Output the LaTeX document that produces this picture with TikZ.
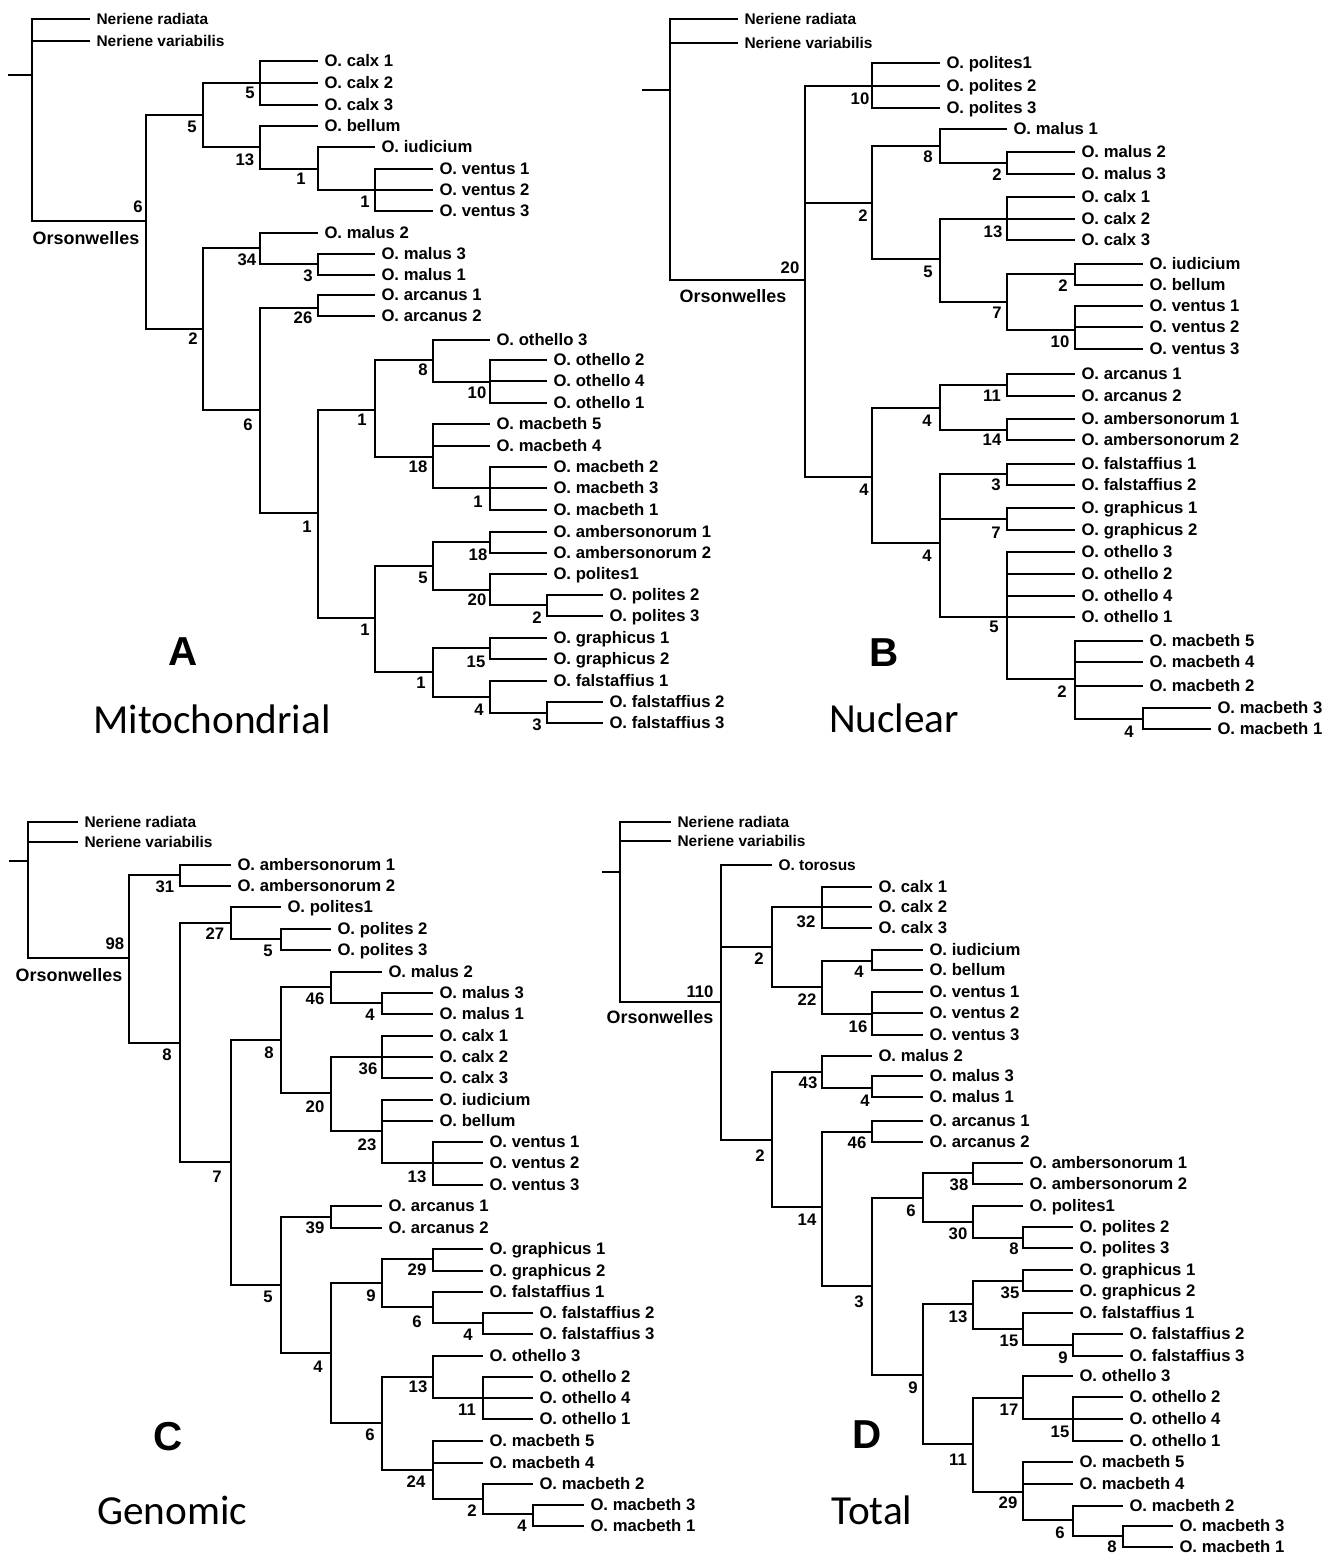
\documentclass[tikz,border=0pt]{standalone}
\usepackage{fontspec}
\setmainfont{Liberation Sans}
\newfontfamily\setfont{Carlito}

\begin{document}
\begin{tikzpicture}[
    x=0.02cm, y=-0.02cm,
    branch/.style={line width=0.8pt},
    leaf/.style={anchor=west, inner xsep=3.5pt, inner ysep=0pt, text height=6.8pt, text depth=0pt, font=\bfseries\fontsize{9.5}{11}\selectfont},
    outgroup/.style={leaf, font=\bfseries\fontsize{8.8}{10}\selectfont},
    boot/.style={inner sep=0pt, font=\bfseries\fontsize{9.5}{11}\selectfont},
    genus/.style={inner sep=0pt, font=\bfseries\fontsize{10.2}{12}\selectfont},
    panel/.style={inner sep=0pt, font=\bfseries\fontsize{23}{26}\selectfont},
    dataset/.style={inner sep=0pt, font=\setfont\fontsize{23.5}{26}\selectfont}
]
\path[fill=white] (0,0) rectangle (1333,1556);
\useasboundingbox (0,0) rectangle (1333,1556);

% ---------------- A: Mitochondrial ----------------
\coordinate (a-stub) at (8,75);
\coordinate (a-root) at (32,75);
\node[outgroup] (a-nrad) at (90,19) {Neriene radiata};
\node[outgroup] (a-nvar) at (90,41) {Neriene variabilis};
\coordinate (a-ors) at (146,221);
\node[genus] (a-orsl) at (86,238) {Orsonwelles};
\node[boot] (a-orsb) at (138,207) {6};

\coordinate (a1) at (203,115);  \node[boot] (a1b) at (192,127) {5};
\coordinate (a2) at (260,83);   \node[boot] (a2b) at (250,93) {5};
\coordinate (a3) at (260,147);  \node[boot] (a3b) at (245,160) {13};
\coordinate (a4) at (318,169);  \node[boot] (a4b) at (301,179) {1};
\coordinate (a5) at (375,190);  \node[boot] (a5b) at (365,202) {1};
\coordinate (a6) at (203,329);  \node[boot] (a6b) at (193,339) {2};
\coordinate (a7) at (260,248);  \node[boot] (a7b) at (247,260) {34};
\coordinate (a8) at (318,264);  \node[boot] (a8b) at (308,276) {3};
\coordinate (a9) at (260,410);  \node[boot] (a9b) at (248,425) {6};
\coordinate (a10) at (318,308); \node[boot] (a10b) at (303,318) {26};
\coordinate (a11) at (318,513); \node[boot] (a11b) at (307,527) {1};
\coordinate (a12) at (375,410); \node[boot] (a12b) at (362,420) {1};
\coordinate (a13) at (433,360); \node[boot] (a13b) at (423,370) {8};
\coordinate (a14) at (490,382); \node[boot] (a14b) at (477,393) {10};
\coordinate (a15) at (433,457); \node[boot] (a15b) at (418,467) {18};
\coordinate (a16) at (490,488); \node[boot] (a16b) at (478,502) {1};
\coordinate (a17) at (375,618); \node[boot] (a17b) at (365,630) {1};
\coordinate (a18) at (433,566); \node[boot] (a18b) at (423,578) {5};
\coordinate (a19) at (490,542); \node[boot] (a19b) at (478,555) {18};
\coordinate (a20) at (490,590); \node[boot] (a20b) at (477,600) {20};
\coordinate (a21) at (547,605); \node[boot] (a21b) at (537,618) {2};
\coordinate (a22) at (433,672); \node[boot] (a22b) at (421,683) {1};
\coordinate (a23) at (490,648); \node[boot] (a23b) at (476,662) {15};
\coordinate (a24) at (490,697); \node[boot] (a24b) at (479,710) {4};
\coordinate (a25) at (547,713); \node[boot] (a25b) at (537,725) {3};

\node[leaf] (a-calx1) at (318,61) {O. calx 1};
\node[leaf] (a-calx2) at (318,83) {O. calx 2};
\node[leaf] (a-calx3) at (318,105) {O. calx 3};
\node[leaf] (a-bel) at (318,126) {O. bellum};
\node[leaf] (a-iud) at (375,147) {O. iudicium};
\node[leaf] (a-ven1) at (433,169) {O. ventus 1};
\node[leaf] (a-ven2) at (433,190) {O. ventus 2};
\node[leaf] (a-ven3) at (433,211) {O. ventus 3};
\node[leaf] (a-mal2) at (318,233) {O. malus 2};
\node[leaf] (a-mal3) at (375,254) {O. malus 3};
\node[leaf] (a-mal1) at (375,275) {O. malus 1};
\node[leaf] (a-arc1) at (375,295) {O. arcanus 1};
\node[leaf] (a-arc2) at (375,316) {O. arcanus 2};
\node[leaf] (a-oth3) at (490,340) {O. othello 3};
\node[leaf] (a-oth2) at (547,360) {O. othello 2};
\node[leaf] (a-oth4) at (547,381) {O. othello 4};
\node[leaf] (a-oth1) at (547,403) {O. othello 1};
\node[leaf] (a-mac5) at (490,424) {O. macbeth 5};
\node[leaf] (a-mac4) at (490,446) {O. macbeth 4};
\node[leaf] (a-mac2) at (547,467) {O. macbeth 2};
\node[leaf] (a-mac3) at (547,488) {O. macbeth 3};
\node[leaf] (a-mac1) at (547,510) {O. macbeth 1};
\node[leaf] (a-amb1) at (547,532) {O. ambersonorum 1};
\node[leaf] (a-amb2) at (547,553) {O. ambersonorum 2};
\node[leaf] (a-pol1) at (547,574) {O. polites1};
\node[leaf] (a-pol2) at (603,595) {O. polites 2};
\node[leaf] (a-pol3) at (603,616) {O. polites 3};
\node[leaf] (a-gra1) at (547,638) {O. graphicus 1};
\node[leaf] (a-gra2) at (547,659) {O. graphicus 2};
\node[leaf] (a-fal1) at (547,681) {O. falstaffius 1};
\node[leaf] (a-fal2) at (603,702) {O. falstaffius 2};
\node[leaf] (a-fal3) at (603,723) {O. falstaffius 3};

\draw[branch] (a-stub) -- (a-root);
\draw[branch] (a-root) |- (a-nrad.west) (a-root) |- (a-nvar.west) (a-root) |- (a-ors);
\draw[branch] (a-ors) |- (a1) (a-ors) |- (a6);
\draw[branch] (a1) |- (a2) (a1) |- (a3);
\draw[branch] (a2) |- (a-calx1.west) (a2) |- (a-calx2.west) (a2) |- (a-calx3.west);
\draw[branch] (a3) |- (a-bel.west) (a3) |- (a4);
\draw[branch] (a4) |- (a-iud.west) (a4) |- (a5);
\draw[branch] (a5) |- (a-ven1.west) (a5) |- (a-ven2.west) (a5) |- (a-ven3.west);
\draw[branch] (a6) |- (a7) (a6) |- (a9);
\draw[branch] (a7) |- (a-mal2.west) (a7) |- (a8);
\draw[branch] (a8) |- (a-mal3.west) (a8) |- (a-mal1.west);
\draw[branch] (a9) |- (a10) (a9) |- (a11);
\draw[branch] (a10) |- (a-arc1.west) (a10) |- (a-arc2.west);
\draw[branch] (a11) |- (a12) (a11) |- (a17);
\draw[branch] (a12) |- (a13) (a12) |- (a15);
\draw[branch] (a13) |- (a-oth3.west) (a13) |- (a14);
\draw[branch] (a14) |- (a-oth2.west) (a14) |- (a-oth4.west) (a14) |- (a-oth1.west);
\draw[branch] (a15) |- (a-mac5.west) (a15) |- (a-mac4.west) (a15) |- (a16);
\draw[branch] (a16) |- (a-mac2.west) (a16) |- (a-mac3.west) (a16) |- (a-mac1.west);
\draw[branch] (a17) |- (a18) (a17) |- (a22);
\draw[branch] (a18) |- (a19) (a18) |- (a20);
\draw[branch] (a19) |- (a-amb1.west) (a19) |- (a-amb2.west);
\draw[branch] (a20) |- (a-pol1.west) (a20) |- (a21);
\draw[branch] (a21) |- (a-pol2.west) (a21) |- (a-pol3.west);
\draw[branch] (a22) |- (a23) (a22) |- (a24);
\draw[branch] (a23) |- (a-gra1.west) (a23) |- (a-gra2.west);
\draw[branch] (a24) |- (a-fal1.west) (a24) |- (a25);
\draw[branch] (a25) |- (a-fal2.west) (a25) |- (a-fal3.west);

\node[panel] (a-tag) at (183,652) {A};
\node[dataset] (a-set) at (212,719) {Mitochondrial};

% ---------------- B: Nuclear ----------------
\coordinate (b-stub) at (642,90);
\coordinate (b-root) at (670,90);
\node[outgroup] (b-nrad) at (738,19) {Neriene radiata};
\node[outgroup] (b-nvar) at (738,43) {Neriene variabilis};
\coordinate (b-ors) at (805,280);
\node[genus] (b-orsl) at (733,296) {Orsonwelles};
\node[boot] (b-orsb) at (790,268) {20};

\coordinate (b1) at (872,86);    \node[boot] (b1b) at (860,99) {10};
\coordinate (b2) at (872,203);   \node[boot] (b2b) at (863,216) {2};
\coordinate (b3) at (940,146);   \node[boot] (b3b) at (928,157) {8};
\coordinate (b4) at (1007,163);  \node[boot] (b4b) at (997,175) {2};
\coordinate (b5) at (940,259);   \node[boot] (b5b) at (928,272) {5};
\coordinate (b6) at (1007,219);  \node[boot] (b6b) at (993,232) {13};
\coordinate (b7) at (1007,302);  \node[boot] (b7b) at (997,313) {7};
\coordinate (b8) at (1075,274);  \node[boot] (b8b) at (1063,286) {2};
\coordinate (b9) at (1075,330);  \node[boot] (b9b) at (1060,342) {10};
\coordinate (b10) at (872,477);  \node[boot] (b10b) at (864,490) {4};
\coordinate (b11) at (940,408);  \node[boot] (b11b) at (927,421) {4};
\coordinate (b12) at (1007,385); \node[boot] (b12b) at (992,396) {11};
\coordinate (b13) at (1007,430); \node[boot] (b13b) at (992,440) {14};
\coordinate (b14) at (940,543);  \node[boot] (b14b) at (927,556) {4};
\coordinate (b15) at (1007,474); \node[boot] (b15b) at (996,485) {3};
\coordinate (b16) at (1007,519); \node[boot] (b16b) at (996,533) {7};
\coordinate (b17) at (1007,617); \node[boot] (b17b) at (994,627) {5};
\coordinate (b18) at (1075,679); \node[boot] (b18b) at (1062,692) {2};
\coordinate (b19) at (1143,719); \node[boot] (b19b) at (1129,732) {4};

\node[leaf] (b-pol1) at (940,63) {O. polites1};
\node[leaf] (b-pol2) at (940,86) {O. polites 2};
\node[leaf] (b-pol3) at (940,108) {O. polites 3};
\node[leaf] (b-mal1) at (1007,129) {O. malus 1};
\node[leaf] (b-mal2) at (1075,152) {O. malus 2};
\node[leaf] (b-mal3) at (1075,174) {O. malus 3};
\node[leaf] (b-calx1) at (1075,197) {O. calx 1};
\node[leaf] (b-calx2) at (1075,219) {O. calx 2};
\node[leaf] (b-calx3) at (1075,240) {O. calx 3};
\node[leaf] (b-iud) at (1143,264) {O. iudicium};
\node[leaf] (b-bel) at (1143,285) {O. bellum};
\node[leaf] (b-ven1) at (1143,306) {O. ventus 1};
\node[leaf] (b-ven2) at (1143,327) {O. ventus 2};
\node[leaf] (b-ven3) at (1143,349) {O. ventus 3};
\node[leaf] (b-arc1) at (1075,374) {O. arcanus 1};
\node[leaf] (b-arc2) at (1075,396) {O. arcanus 2};
\node[leaf] (b-amb1) at (1075,419) {O. ambersonorum 1};
\node[leaf] (b-amb2) at (1075,440) {O. ambersonorum 2};
\node[leaf] (b-fal1) at (1075,464) {O. falstaffius 1};
\node[leaf] (b-fal2) at (1075,485) {O. falstaffius 2};
\node[leaf] (b-gra1) at (1075,508) {O. graphicus 1};
\node[leaf] (b-gra2) at (1075,530) {O. graphicus 2};
\node[leaf] (b-oth3) at (1075,552) {O. othello 3};
\node[leaf] (b-oth2) at (1075,574) {O. othello 2};
\node[leaf] (b-oth4) at (1075,596) {O. othello 4};
\node[leaf] (b-oth1) at (1075,617) {O. othello 1};
\node[leaf] (b-mac5) at (1143,641) {O. macbeth 5};
\node[leaf] (b-mac4) at (1143,662) {O. macbeth 4};
\node[leaf] (b-mac2) at (1143,686) {O. macbeth 2};
\node[leaf] (b-mac3) at (1211,708) {O. macbeth 3};
\node[leaf] (b-mac1) at (1211,729) {O. macbeth 1};

\draw[branch] (b-stub) -- (b-root);
\draw[branch] (b-root) |- (b-nrad.west) (b-root) |- (b-nvar.west) (b-root) |- (b-ors);
\draw[branch] (b-ors) |- (b1) (b-ors) |- (b2) (b-ors) |- (b10);
\draw[branch] (b1) |- (b-pol1.west) (b1) |- (b-pol2.west) (b1) |- (b-pol3.west);
\draw[branch] (b2) |- (b3) (b2) |- (b5);
\draw[branch] (b3) |- (b-mal1.west) (b3) |- (b4);
\draw[branch] (b4) |- (b-mal2.west) (b4) |- (b-mal3.west);
\draw[branch] (b5) |- (b6) (b5) |- (b7);
\draw[branch] (b6) |- (b-calx1.west) (b6) |- (b-calx2.west) (b6) |- (b-calx3.west);
\draw[branch] (b7) |- (b8) (b7) |- (b9);
\draw[branch] (b8) |- (b-iud.west) (b8) |- (b-bel.west);
\draw[branch] (b9) |- (b-ven1.west) (b9) |- (b-ven2.west) (b9) |- (b-ven3.west);
\draw[branch] (b10) |- (b11) (b10) |- (b14);
\draw[branch] (b11) |- (b12) (b11) |- (b13);
\draw[branch] (b12) |- (b-arc1.west) (b12) |- (b-arc2.west);
\draw[branch] (b13) |- (b-amb1.west) (b13) |- (b-amb2.west);
\draw[branch] (b14) |- (b15) (b14) |- (b16) (b14) |- (b17);
\draw[branch] (b15) |- (b-fal1.west) (b15) |- (b-fal2.west);
\draw[branch] (b16) |- (b-gra1.west) (b16) |- (b-gra2.west);
\draw[branch] (b17) |- (b-oth3.west) (b17) |- (b-oth2.west) (b17) |- (b-oth4.west) (b17) |- (b-oth1.west) (b17) |- (b18);
\draw[branch] (b18) |- (b-mac5.west) (b18) |- (b-mac4.west) (b18) |- (b-mac2.west) (b18) |- (b19);
\draw[branch] (b19) |- (b-mac3.west) (b19) |- (b-mac1.west);

\node[panel] (b-tag) at (884,653) {B};
\node[dataset] (b-set) at (894,718) {Nuclear};

% ---------------- C: Genomic ----------------
\coordinate (c-stub) at (9,861);
\coordinate (c-root) at (28,861);
\node[outgroup] (c-nrad) at (78,822) {Neriene radiata};
\node[outgroup] (c-nvar) at (78,842) {Neriene variabilis};
\coordinate (c-ors) at (129,958);
\node[genus] (c-orsl) at (69,975) {Orsonwelles};
\node[boot] (c-orsb) at (115,944) {98};

\coordinate (c1) at (180,875);   \node[boot] (c1b) at (165,887) {31};
\coordinate (c2) at (180,1043);  \node[boot] (c2b) at (167,1055) {8};
\coordinate (c3) at (231,923);   \node[boot] (c3b) at (215,934) {27};
\coordinate (c4) at (281,939);   \node[boot] (c4b) at (268,951) {5};
\coordinate (c5) at (231,1162);  \node[boot] (c5b) at (217,1177) {7};
\coordinate (c6) at (281,1040);  \node[boot] (c6b) at (269,1053) {8};
\coordinate (c7) at (331,987);   \node[boot] (c7b) at (315,999) {46};
\coordinate (c8) at (382,1003);  \node[boot] (c8b) at (370,1015) {4};
\coordinate (c9) at (331,1093);  \node[boot] (c9b) at (315,1107) {20};
\coordinate (c10) at (382,1057); \node[boot] (c10b) at (368,1069) {36};
\coordinate (c11) at (382,1131); \node[boot] (c11b) at (367,1145) {23};
\coordinate (c12) at (433,1163); \node[boot] (c12b) at (417,1177) {13};
\coordinate (c13) at (281,1285); \node[boot] (c13b) at (268,1297) {5};
\coordinate (c14) at (331,1217); \node[boot] (c14b) at (315,1228) {39};
\coordinate (c15) at (331,1353); \node[boot] (c15b) at (318,1367) {4};
\coordinate (c16) at (382,1283); \node[boot] (c16b) at (371,1296) {9};
\coordinate (c17) at (433,1259); \node[boot] (c17b) at (417,1270) {29};
\coordinate (c18) at (433,1307); \node[boot] (c18b) at (417,1322) {6};
\coordinate (c19) at (483,1323); \node[boot] (c19b) at (468,1335) {4};
\coordinate (c20) at (382,1423); \node[boot] (c20b) at (370,1435) {6};
\coordinate (c21) at (433,1377); \node[boot] (c21b) at (418,1387) {13};
\coordinate (c22) at (483,1398); \node[boot] (c22b) at (467,1410) {11};
\coordinate (c23) at (433,1470); \node[boot] (c23b) at (416,1482) {24};
\coordinate (c24) at (483,1499); \node[boot] (c24b) at (472,1511) {2};
\coordinate (c25) at (533,1514); \node[boot] (c25b) at (522,1526) {4};

\node[leaf] (c-amb1) at (231,865) {O. ambersonorum 1};
\node[leaf] (c-amb2) at (231,886) {O. ambersonorum 2};
\node[leaf] (c-pol1) at (281,907) {O. polites1};
\node[leaf] (c-pol2) at (331,929) {O. polites 2};
\node[leaf] (c-pol3) at (331,950) {O. polites 3};
\node[leaf] (c-mal2) at (382,972) {O. malus 2};
\node[leaf] (c-mal3) at (433,993) {O. malus 3};
\node[leaf] (c-mal1) at (433,1014) {O. malus 1};
\node[leaf] (c-calx1) at (433,1036) {O. calx 1};
\node[leaf] (c-calx2) at (433,1057) {O. calx 2};
\node[leaf] (c-calx3) at (433,1078) {O. calx 3};
\node[leaf] (c-iud) at (433,1100) {O. iudicium};
\node[leaf] (c-bel) at (433,1121) {O. bellum};
\node[leaf] (c-ven1) at (483,1142) {O. ventus 1};
\node[leaf] (c-ven2) at (483,1163) {O. ventus 2};
\node[leaf] (c-ven3) at (483,1185) {O. ventus 3};
\node[leaf] (c-arc1) at (382,1206) {O. arcanus 1};
\node[leaf] (c-arc2) at (382,1228) {O. arcanus 2};
\node[leaf] (c-gra1) at (483,1249) {O. graphicus 1};
\node[leaf] (c-gra2) at (483,1271) {O. graphicus 2};
\node[leaf] (c-fal1) at (483,1292) {O. falstaffius 1};
\node[leaf] (c-fal2) at (533,1313) {O. falstaffius 2};
\node[leaf] (c-fal3) at (533,1334) {O. falstaffius 3};
\node[leaf] (c-oth3) at (483,1356) {O. othello 3};
\node[leaf] (c-oth2) at (533,1377) {O. othello 2};
\node[leaf] (c-oth4) at (533,1398) {O. othello 4};
\node[leaf] (c-oth1) at (533,1419) {O. othello 1};
\node[leaf] (c-mac5) at (483,1441) {O. macbeth 5};
\node[leaf] (c-mac4) at (483,1463) {O. macbeth 4};
\node[leaf] (c-mac2) at (533,1484) {O. macbeth 2};
\node[leaf] (c-mac3) at (584,1505) {O. macbeth 3};
\node[leaf] (c-mac1) at (584,1526) {O. macbeth 1};

\draw[branch] (c-stub) -- (c-root);
\draw[branch] (c-root) |- (c-nrad.west) (c-root) |- (c-nvar.west) (c-root) |- (c-ors);
\draw[branch] (c-ors) |- (c1) (c-ors) |- (c2);
\draw[branch] (c1) |- (c-amb1.west) (c1) |- (c-amb2.west);
\draw[branch] (c2) |- (c3) (c2) |- (c5);
\draw[branch] (c3) |- (c-pol1.west) (c3) |- (c4);
\draw[branch] (c4) |- (c-pol2.west) (c4) |- (c-pol3.west);
\draw[branch] (c5) |- (c6) (c5) |- (c13);
\draw[branch] (c6) |- (c7) (c6) |- (c9);
\draw[branch] (c7) |- (c-mal2.west) (c7) |- (c8);
\draw[branch] (c8) |- (c-mal3.west) (c8) |- (c-mal1.west);
\draw[branch] (c9) |- (c10) (c9) |- (c11);
\draw[branch] (c10) |- (c-calx1.west) (c10) |- (c-calx2.west) (c10) |- (c-calx3.west);
\draw[branch] (c11) |- (c-iud.west) (c11) |- (c-bel.west) (c11) |- (c12);
\draw[branch] (c12) |- (c-ven1.west) (c12) |- (c-ven2.west) (c12) |- (c-ven3.west);
\draw[branch] (c13) |- (c14) (c13) |- (c15);
\draw[branch] (c14) |- (c-arc1.west) (c14) |- (c-arc2.west);
\draw[branch] (c15) |- (c16) (c15) |- (c20);
\draw[branch] (c16) |- (c17) (c16) |- (c18);
\draw[branch] (c17) |- (c-gra1.west) (c17) |- (c-gra2.west);
\draw[branch] (c18) |- (c-fal1.west) (c18) |- (c19);
\draw[branch] (c19) |- (c-fal2.west) (c19) |- (c-fal3.west);
\draw[branch] (c20) |- (c21) (c20) |- (c23);
\draw[branch] (c21) |- (c-oth3.west) (c21) |- (c22);
\draw[branch] (c22) |- (c-oth2.west) (c22) |- (c-oth4.west) (c22) |- (c-oth1.west);
\draw[branch] (c23) |- (c-mac5.west) (c23) |- (c-mac4.west) (c23) |- (c24);
\draw[branch] (c24) |- (c-mac2.west) (c24) |- (c25);
\draw[branch] (c25) |- (c-mac3.west) (c25) |- (c-mac1.west);

\node[panel] (c-tag) at (168,1437) {C};
\node[dataset] (c-set) at (172,1510) {Genomic};

% ---------------- D: Total ----------------
\coordinate (d-stub) at (602,872);
\coordinate (d-root) at (620,872);
\node[outgroup] (d-nrad) at (671,822) {Neriene radiata};
\node[outgroup] (d-nvar) at (671,841) {Neriene variabilis};
\coordinate (d-ors) at (721,1002);
\node[genus] (d-orsl) at (660,1017) {Orsonwelles};
\node[boot] (d-orsb) at (700,992) {110};

\coordinate (d1) at (772,947);   \node[boot] (d1b) at (759,959) {2};
\coordinate (d2) at (822,907);   \node[boot] (d2b) at (806,922) {32};
\coordinate (d3) at (822,987);   \node[boot] (d3b) at (807,1000) {22};
\coordinate (d4) at (872,961);   \node[boot] (d4b) at (859,972) {4};
\coordinate (d5) at (872,1014);  \node[boot] (d5b) at (858,1027) {16};
\coordinate (d6) at (772,1140);  \node[boot] (d6b) at (760,1156) {2};
\coordinate (d7) at (822,1072);  \node[boot] (d7b) at (808,1083) {43};
\coordinate (d8) at (872,1088);  \node[boot] (d8b) at (865,1101) {4};
\coordinate (d9) at (822,1207);  \node[boot] (d9b) at (807,1220) {14};
\coordinate (d10) at (872,1132); \node[boot] (d10b) at (857,1143) {46};
\coordinate (d11) at (872,1286); \node[boot] (d11b) at (859,1302) {3};
\coordinate (d12) at (923,1198); \node[boot] (d12b) at (911,1211) {6};
\coordinate (d13) at (973,1173); \node[boot] (d13b) at (959,1185) {38};
\coordinate (d14) at (973,1222); \node[boot] (d14b) at (958,1234) {30};
\coordinate (d15) at (1023,1238); \node[boot] (d15b) at (1014,1249) {8};
\coordinate (d16) at (923,1375); \node[boot] (d16b) at (913,1388) {9};
\coordinate (d17) at (973,1304); \node[boot] (d17b) at (958,1317) {13};
\coordinate (d18) at (1023,1281); \node[boot] (d18b) at (1010,1293) {35};
\coordinate (d19) at (1023,1329); \node[boot] (d19b) at (1009,1341) {15};
\coordinate (d20) at (1073,1345); \node[boot] (d20b) at (1063,1358) {9};
\coordinate (d21) at (973,1444); \node[boot] (d21b) at (958,1460) {11};
\coordinate (d22) at (1023,1398); \node[boot] (d22b) at (1009,1410) {17};
\coordinate (d23) at (1073,1419); \node[boot] (d23b) at (1060,1432) {15};
\coordinate (d24) at (1023,1492); \node[boot] (d24b) at (1008,1503) {29};
\coordinate (d25) at (1073,1520); \node[boot] (d25b) at (1060,1533) {6};
\coordinate (d26) at (1123,1536); \node[boot] (d26b) at (1112,1547) {8};

\node[outgroup] (d-tor) at (772,865) {O. torosus};
\node[leaf] (d-calx1) at (872,887) {O. calx 1};
\node[leaf] (d-calx2) at (872,907) {O. calx 2};
\node[leaf] (d-calx3) at (872,928) {O. calx 3};
\node[leaf] (d-iud) at (923,950) {O. iudicium};
\node[leaf] (d-bel) at (923,970) {O. bellum};
\node[leaf] (d-ven1) at (923,992) {O. ventus 1};
\node[leaf] (d-ven2) at (923,1013) {O. ventus 2};
\node[leaf] (d-ven3) at (923,1035) {O. ventus 3};
\node[leaf] (d-mal2) at (872,1056) {O. malus 2};
\node[leaf] (d-mal3) at (923,1076) {O. malus 3};
\node[leaf] (d-mal1) at (923,1097) {O. malus 1};
\node[leaf] (d-arc1) at (923,1121) {O. arcanus 1};
\node[leaf] (d-arc2) at (923,1142) {O. arcanus 2};
\node[leaf] (d-amb1) at (1023,1163) {O. ambersonorum 1};
\node[leaf] (d-amb2) at (1023,1184) {O. ambersonorum 2};
\node[leaf] (d-pol1) at (1023,1206) {O. polites1};
\node[leaf] (d-pol2) at (1073,1227) {O. polites 2};
\node[leaf] (d-pol3) at (1073,1248) {O. polites 3};
\node[leaf] (d-gra1) at (1073,1270) {O. graphicus 1};
\node[leaf] (d-gra2) at (1073,1291) {O. graphicus 2};
\node[leaf] (d-fal1) at (1073,1313) {O. falstaffius 1};
\node[leaf] (d-fal2) at (1123,1334) {O. falstaffius 2};
\node[leaf] (d-fal3) at (1123,1356) {O. falstaffius 3};
\node[leaf] (d-oth3) at (1073,1376) {O. othello 3};
\node[leaf] (d-oth2) at (1123,1397) {O. othello 2};
\node[leaf] (d-oth4) at (1123,1419) {O. othello 4};
\node[leaf] (d-oth1) at (1123,1441) {O. othello 1};
\node[leaf] (d-mac5) at (1073,1462) {O. macbeth 5};
\node[leaf] (d-mac4) at (1073,1484) {O. macbeth 4};
\node[leaf] (d-mac2) at (1123,1506) {O. macbeth 2};
\node[leaf] (d-mac3) at (1173,1526) {O. macbeth 3};
\node[leaf] (d-mac1) at (1173,1547) {O. macbeth 1};

\draw[branch] (d-stub) -- (d-root);
\draw[branch] (d-root) |- (d-nrad.west) (d-root) |- (d-nvar.west) (d-root) |- (d-ors);
\draw[branch] (d-ors) |- (d-tor.west) (d-ors) |- (d1) (d-ors) |- (d6);
\draw[branch] (d1) |- (d2) (d1) |- (d3);
\draw[branch] (d2) |- (d-calx1.west) (d2) |- (d-calx2.west) (d2) |- (d-calx3.west);
\draw[branch] (d3) |- (d4) (d3) |- (d5);
\draw[branch] (d4) |- (d-iud.west) (d4) |- (d-bel.west);
\draw[branch] (d5) |- (d-ven1.west) (d5) |- (d-ven2.west) (d5) |- (d-ven3.west);
\draw[branch] (d6) |- (d7) (d6) |- (d9);
\draw[branch] (d7) |- (d-mal2.west) (d7) |- (d8);
\draw[branch] (d8) |- (d-mal3.west) (d8) |- (d-mal1.west);
\draw[branch] (d9) |- (d10) (d9) |- (d11);
\draw[branch] (d10) |- (d-arc1.west) (d10) |- (d-arc2.west);
\draw[branch] (d11) |- (d12) (d11) |- (d16);
\draw[branch] (d12) |- (d13) (d12) |- (d14);
\draw[branch] (d13) |- (d-amb1.west) (d13) |- (d-amb2.west);
\draw[branch] (d14) |- (d-pol1.west) (d14) |- (d15);
\draw[branch] (d15) |- (d-pol2.west) (d15) |- (d-pol3.west);
\draw[branch] (d16) |- (d17) (d16) |- (d21);
\draw[branch] (d17) |- (d18) (d17) |- (d19);
\draw[branch] (d18) |- (d-gra1.west) (d18) |- (d-gra2.west);
\draw[branch] (d19) |- (d-fal1.west) (d19) |- (d20);
\draw[branch] (d20) |- (d-fal2.west) (d20) |- (d-fal3.west);
\draw[branch] (d21) |- (d22) (d21) |- (d24);
\draw[branch] (d22) |- (d-oth3.west) (d22) |- (d23);
\draw[branch] (d23) |- (d-oth2.west) (d23) |- (d-oth4.west) (d23) |- (d-oth1.west);
\draw[branch] (d24) |- (d-mac5.west) (d24) |- (d-mac4.west) (d24) |- (d25);
\draw[branch] (d25) |- (d-mac2.west) (d25) |- (d26);
\draw[branch] (d26) |- (d-mac3.west) (d26) |- (d-mac1.west);

\node[panel] (d-tag) at (867,1435) {D};
\node[dataset] (d-set) at (872,1510) {Total};

\end{tikzpicture}
\end{document}
